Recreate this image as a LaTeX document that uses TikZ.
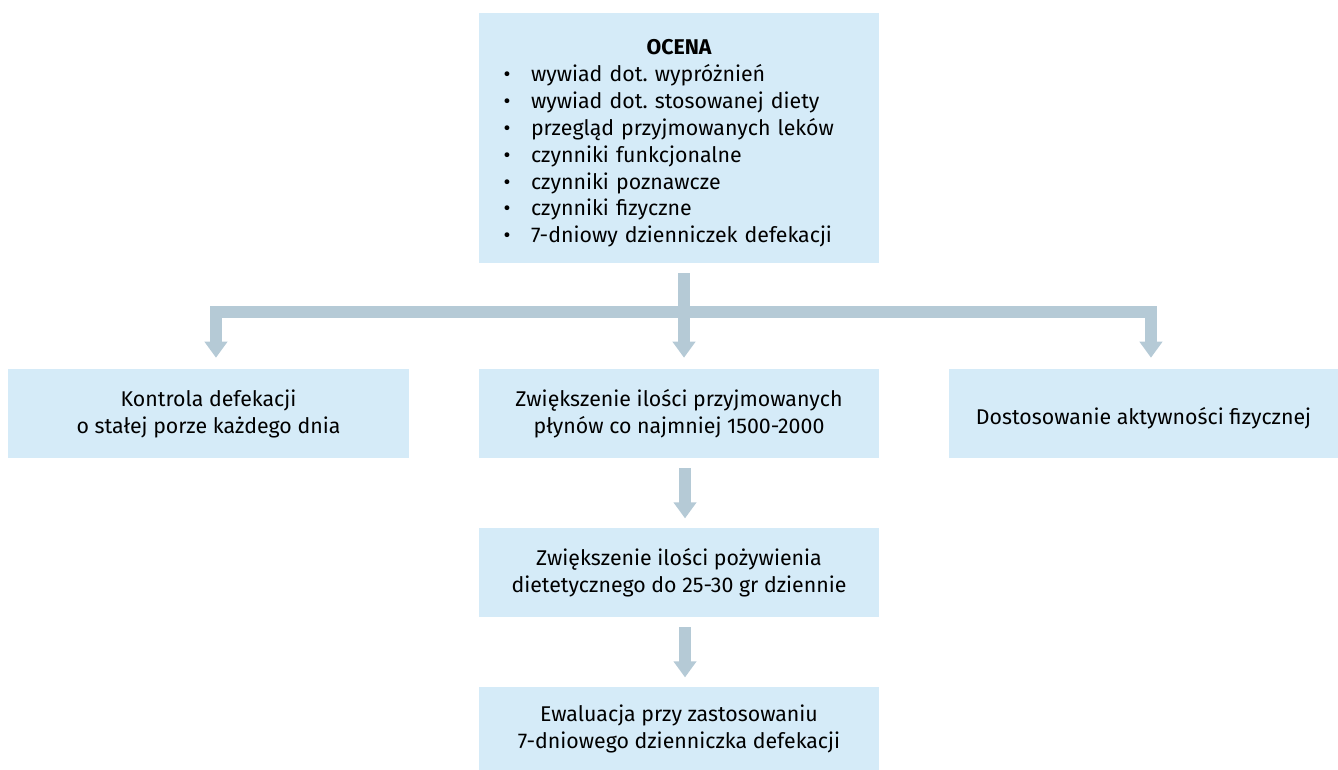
\documentclass[tikz,border=0pt]{standalone}
\usepackage{fontspec}
\setmainfont{Fira Sans}
\usetikzlibrary{arrows.meta}
\definecolor{boxblue}{HTML}{D5EBF8}
\definecolor{flowgray}{HTML}{B5CAD6}
\frenchspacing
% one bullet line of the assessment list
\newcommand{\pkt}[1]{\makebox[20.5pt][l]{\textbullet}#1}

\begin{document}
\begin{tikzpicture}[x=0.75pt,y=-0.75pt,
    font=\fontsize{16}{20.2}\selectfont,
    box/.style={fill=boxblue,draw=none,align=center,inner sep=0pt,minimum height=66.75pt,
      execute at begin node={\rule{0pt}{20.5pt}}},
    flow/.style={draw=flowgray,line width=9pt,-{Triangle[width=16.5pt,length=12pt]},
      shorten <=7.5pt,shorten >=7pt}]
    \useasboundingbox (0,0) rectangle (1338,770);
    % assessment box
    \node[fill=boxblue,inner sep=0pt,minimum width=300pt,minimum height=187.5pt] (ocena) at (679,138) {};
    \node[align=left,text width=263pt,inner sep=0pt,yshift=-4pt] (lista) at (ocena.center) {%
      \makebox[263pt]{\bfseries OCENA}\\
      \pkt{wywiad dot. wypróżnień}\\
      \pkt{wywiad dot. stosowanej diety}\\
      \pkt{przegląd przyjmowanych leków}\\
      \pkt{czynniki funkcjonalne}\\
      \pkt{czynniki poznawcze}\\
      \pkt{czynniki fizyczne}\\
      \pkt{7-dniowy dzienniczek defekacji}};
    % second row
    \node[box,minimum width=300.75pt] (kontrola) at (208.5,413.5)
      {Kontrola defekacji\\o stałej porze każdego dnia};
    \node[box,minimum width=300pt] (plyny) at (679,413.5)
      {Zwiększenie ilości przyjmowanych\\płynów co najmniej 1500-2000};
    \node[box,minimum width=291.75pt] (dostosowanie) at (1143.5,413.5)
      {Dostosowanie aktywności fizycznej};
    % middle column
    \node[box,minimum width=300pt] (pozywienie) at (679,572.5)
      {Zwiększenie ilości pożywienia\\dietetycznego do 25-30 gr dziennie};
    \node[box,minimum width=300pt,minimum height=62.25pt] (ewaluacja) at (679,728.5)
      {Ewaluacja przy zastosowaniu\\7-dniowego dzienniczka defekacji};
    % branching connector
    \coordinate (hub) at (684,312);
    \draw[flow,-] ([xshift=3.75pt]ocena.south) -- ([yshift=-4.5pt]hub);
    \draw[flow,shorten <=0pt,shorten >=8.25pt] (hub) -| ([xshift=5.6pt]kontrola.north);
    \draw[flow,shorten <=0pt,shorten >=8.25pt] (hub) -| ([xshift=5.6pt]dostosowanie.north);
    \draw[flow,shorten <=0pt,shorten >=8.25pt] (hub) -- ([xshift=3.75pt]plyny.north);
    % vertical chain
    \draw[flow] ([xshift=4.5pt]plyny.south) -- ([xshift=4.5pt]pozywienie.north);
    \draw[flow] ([xshift=4.5pt]pozywienie.south) -- ([xshift=4.5pt]ewaluacja.north);
\end{tikzpicture}
\end{document}
